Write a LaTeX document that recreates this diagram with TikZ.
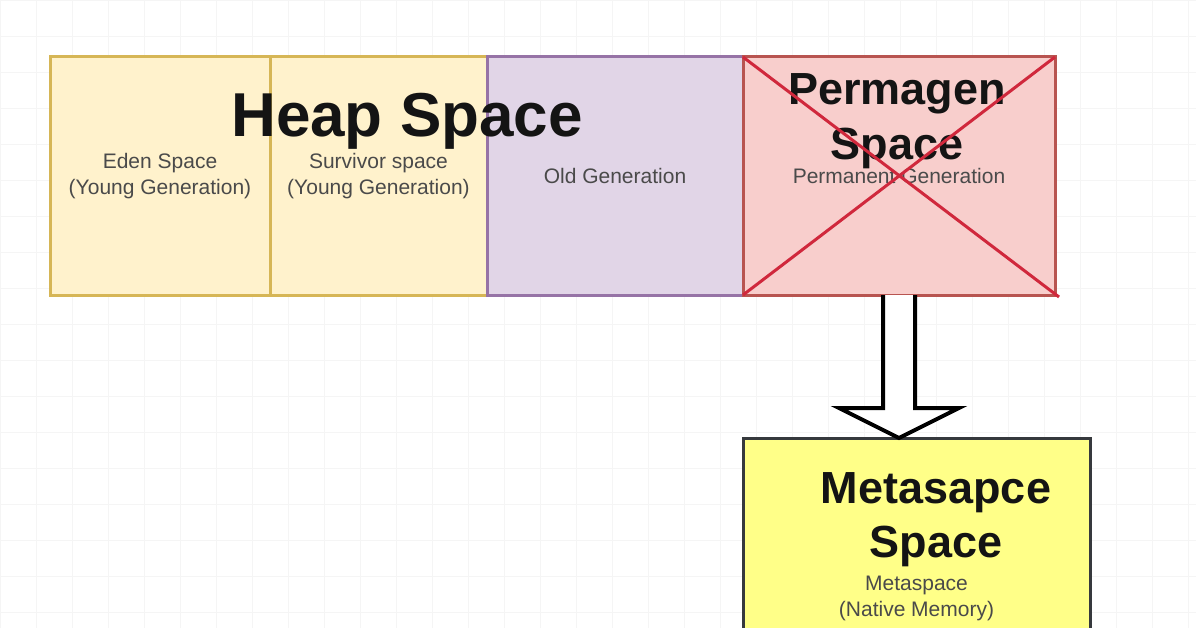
\documentclass[tikz,border=0pt]{standalone}
\usepackage{fontspec}
\setmainfont{Liberation Sans}
\usetikzlibrary{positioning, calc}

\definecolor{youngfill}{HTML}{FFF2CC}
\definecolor{youngline}{HTML}{D6B656}
\definecolor{oldfill}{HTML}{E1D5E7}
\definecolor{oldline}{HTML}{9673A6}
\definecolor{permfill}{HTML}{F8CECC}
\definecolor{permline}{HTML}{B85450}
\definecolor{crossred}{HTML}{D0283C}
\definecolor{metafill}{HTML}{FFFF88}
\definecolor{metaline}{HTML}{36393D}
\definecolor{labelgray}{HTML}{4A4A4A}

\tikzset{
  gridline/.style={draw=black!4, line width=0.8pt},
  spacebox/.style={draw, line width=3pt, inner sep=0pt, outer sep=0pt, align=center,
    text=labelgray, font=\fontsize{21}{26}\selectfont},
  title/.style={align=center, text=black!92, font=\bfseries},
}

\begin{document}
\begin{tikzpicture}[x=1pt, y=-1pt, node distance=0pt]
        \useasboundingbox (0,0) rectangle (1196,628);
        \clip (0,0) rectangle (1196,628);
        \fill[white] (0,0) rectangle (1196,628);
        \draw[gridline, step=36pt] (0,0) grid (1196,628);

        \node[spacebox, fill=youngfill, draw=youngline, minimum width=220, minimum height=238] (eden) at (160,176) {Eden Space\\(Young Generation)};
        \node[spacebox, fill=youngfill, draw=youngline, minimum width=217, minimum height=238, right=of eden] (survivor) {Survivor space\\(Young Generation)};
        \node[spacebox, fill=oldfill, draw=oldline, minimum width=256, minimum height=238, right=of survivor] (old) {Old Generation};
        \node[spacebox, fill=permfill, draw=permline, minimum width=312, minimum height=238, right=of old] (perm) {Permanent Generation};
        \node[spacebox, fill=metafill, draw=metaline, minimum width=347, minimum height=320] (meta) at (916.5,598) {Metaspace\\(Native Memory)};

        \node[title, font=\bfseries\fontsize{62}{70}\selectfont] (heap) at (407,121) {Heap Space};
        \node[title, font=\bfseries\fontsize{45}{55}\selectfont] (permtitle) at (897,121) {Permagen\\Space};
        \node[title, font=\bfseries\fontsize{45}{54}\selectfont] (metatitle) at (936,520) {Metasapce\\Space};

        \draw[crossred, line width=3pt] (perm.north west) -- ($(perm.south east)+(4,2)$);
        \draw[crossred, line width=3pt] (perm.north east) -- (perm.south west);

        \draw[fill=white, line width=4pt, line join=miter]
          ($(perm.south)+(-16,0)$) -- ($(perm.south)+(-16,113)$) -- ($(perm.south)+(-60,113)$)
          -- (perm.south |- meta.north)
          -- ($(perm.south)+(60,113)$) -- ($(perm.south)+(16,113)$) -- ($(perm.south)+(16,0)$);
      \end{tikzpicture}
\end{document}
